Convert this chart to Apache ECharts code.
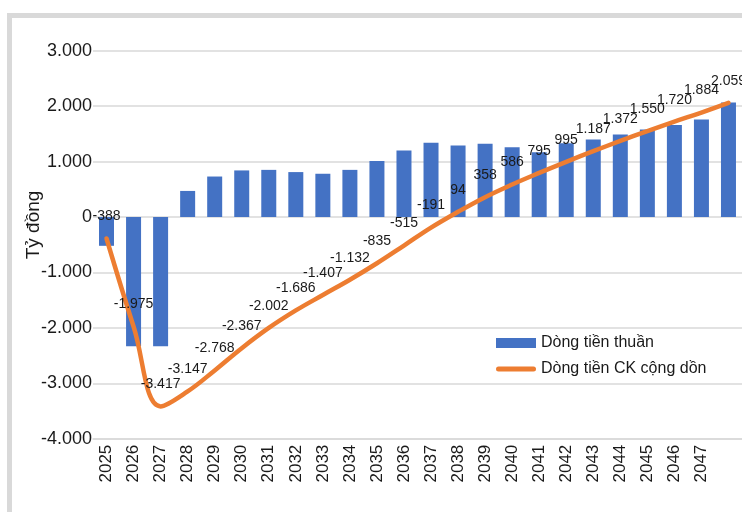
<!DOCTYPE html>
<html>
<head>
<meta charset="utf-8">
<script src="https://cdn.jsdelivr.net/npm/echarts@6/dist/echarts.min.js"></script>
<style>
html,body{margin:0;padding:0;background:#fff;}
#c{width:742px;height:512px;}
</style>
</head>
<body>
<div id="c"></div>
<script>
const categories = ['2025','2026','2027','2028','2029','2030','2031','2032','2033','2034','2035','2036','2037','2038','2039','2040','2041','2042','2043','2044','2045','2046','2047',''];
const netCashFlow = [-520,-2330,-2330,470,730,840,850,810,780,850,1010,1200,1340,1290,1320,1260,1170,1330,1400,1490,1580,1660,1760,2065];
const cumulativeDiscounted = [-388,-1975,-3417,-3147,-2768,-2367,-2002,-1686,-1407,-1132,-835,-515,-191,94,358,586,795,995,1187,1372,1550,1720,1884,2059];
const yTicks = {min:-4000, max:3000, interval:1000};
const seriesNames = ['Dòng tiền thuần','Dòng tiền CK cộng dồn'];
const axisTitle = 'Tỷ đồng';

const FONT = "'Liberation Sans Narrow','Liberation Sans',sans-serif";
function fmt(v){
  const neg = v < 0; let s = String(Math.abs(Math.round(v)));
  s = s.replace(/\B(?=(\d{3})+(?!\d))/g, '.');
  return (neg ? '-' : '') + s;
}
const chart = echarts.init(document.getElementById('c'), null, {renderer:'canvas'});
chart.setOption({
  animation:false,
  backgroundColor:'#fff',
  textStyle:{fontFamily:FONT},
  graphic:[
    {type:'rect', silent:true, z:-10, shape:{x:9.5,y:15.5,width:900,height:700}, style:{fill:'none',stroke:'#d9d9d9',lineWidth:5}},
    {type:'text', silent:true, x:34, y:225, rotation:Math.PI/2, style:{text:axisTitle, font:"19px "+FONT, fill:'#1a1a1a', align:'center', verticalAlign:'middle'}}
  ],
  grid:{left:93, top:50.7, width:650, height:388, containLabel:false},
  legend:{
    orient:'vertical', left:494, top:330, itemWidth:40, itemHeight:10, itemGap:10, padding:[5,5,5,2],
    textStyle:{fontSize:16, color:'#1a1a1a', fontFamily:FONT},
    data:[
      {name:seriesNames[0], icon:'rect'},
      {name:seriesNames[1], icon:'path://M2.5,0 L37.5,0 A2.5,2.5 0 0 1 37.5,5 L2.5,5 A2.5,2.5 0 0 1 2.5,0 Z', itemStyle:{color:'#ED7D31'}}
    ]
  },
  xAxis:{
    type:'category', data:categories,
    axisLine:{show:true, onZero:false, lineStyle:{color:'#d9d9d9', width:1.5}},
    axisTick:{show:false},
    axisLabel:{rotate:90, fontSize:17, color:'#1a1a1a', margin:6, interval:0, fontFamily:FONT}
  },
  yAxis:{
    type:'value', min:yTicks.min, max:yTicks.max, interval:yTicks.interval,
    axisLine:{show:false}, axisTick:{show:false},
    splitLine:{lineStyle:{color:'#d9d9d9', width:1.5}},
    axisLabel:{fontSize:18, color:'#1a1a1a', margin:1, formatter:fmt, fontFamily:FONT}
  },
  series:[
    {name:seriesNames[0], type:'bar', data:netCashFlow, barWidth:15, itemStyle:{color:'#4472C4'}, z:2},
    {name:seriesNames[1], type:'line', data:cumulativeDiscounted, smooth:0.4, symbol:'circle', symbolSize:0.01, showSymbol:true,
     lineStyle:{color:'#ED7D31', width:4.5, cap:'round'}, itemStyle:{color:'#ED7D31'}, z:3,
     label:{show:true, position:'top', distance:15, fontSize:14, color:'#1a1a1a', fontFamily:FONT, formatter:p=>fmt(p.value)}}
  ]
});
</script>
</body>
</html>
